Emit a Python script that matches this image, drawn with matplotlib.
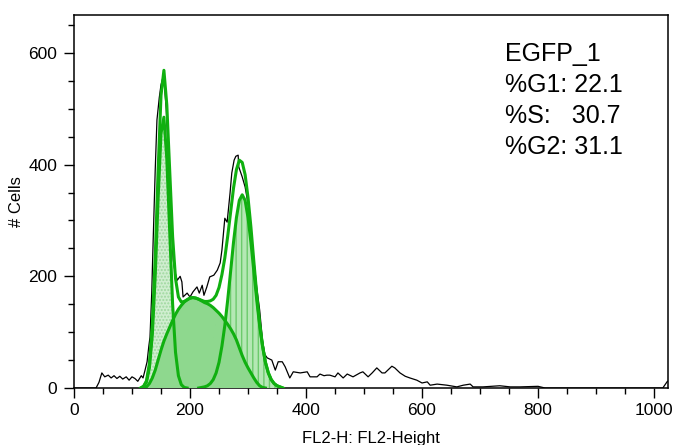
import numpy as np
import matplotlib
matplotlib.use("Agg")
import matplotlib.pyplot as plt

plt.rcParams['font.family'] = ['Liberation Sans', 'DejaVu Sans']
plt.rcParams['hatch.linewidth'] = 1.0

# raw histogram (FL2-H channel, cell count)
data_ch = [0, 38, 43, 48, 53, 59, 64, 69, 74, 79, 84, 90, 95, 100, 105, 110, 116, 119,
           122, 126, 129, 131, 134, 136, 140, 143, 147, 150, 153, 156, 159, 162, 165,
           168, 171, 174, 178, 183, 186, 188, 195, 200, 205, 212, 216, 221, 224, 229,
           234, 241, 247, 252, 255, 260, 264, 269, 272, 276, 279, 283, 284, 290, 295,
           300, 305, 310, 315, 320, 325, 329, 333, 341, 347, 352, 359, 364, 372, 378,
           390, 402, 407, 419, 424, 431, 436, 441, 450, 455, 464, 471, 481, 493, 498,
           507, 514, 522, 531, 536, 548, 553, 562, 571, 579, 591, 600, 609, 614, 626,
           643, 660, 671, 683, 688, 705, 734, 752, 769, 800, 812, 1015, 1023]
data_cnt = [0, 0, 10, 27, 20, 23, 18, 22, 17, 21, 16, 20, 14, 20, 17, 12, 22, 18,
            30, 47, 75, 91, 170, 247, 390, 480, 520, 543, 555, 540, 500, 430, 360,
            290, 230, 208, 193, 200, 190, 163, 170, 163, 172, 181, 170, 184, 166, 181,
            199, 202, 211, 224, 247, 304, 297, 349, 385, 408, 415, 417, 396, 378, 360,
            330, 280, 230, 180, 140, 85, 60, 54, 50, 32, 47, 47, 38, 18, 29,
            27, 29, 20, 20, 25, 22, 23, 23, 20, 27, 18, 25, 20, 27, 29,
            20, 27, 36, 27, 27, 39, 36, 27, 21, 18, 14, 9, 11, 5, 7,
            5, 2, 5, 7, 2, 2, 4, 2, 2, 3, 0, 0, 12]

# model components on a 5-channel grid (115 ... 360)
fit_ch = np.arange(115, 365, 5)
g1 = [0, 3, 11, 36, 95, 201, 339, 456, 485, 410, 280, 150, 64, 22, 6, 1] + [0] * 34
s_phase = [0, 0, 2, 8, 18, 32, 50, 68, 84, 97, 109, 121, 132, 141, 148, 154, 158, 161,
           162, 161, 159, 156, 153, 151, 148, 144, 139, 134, 128, 121, 114, 106, 97,
           86, 72, 58, 46, 36, 27, 18, 10, 4, 1] + [0] * 7
g2 = [0] * 21 + [1, 2, 4, 8, 15, 27, 46, 75, 112, 158, 209, 261, 305, 336, 346, 336,
                 305, 261, 209, 158, 112, 75, 46, 27, 15, 8, 4, 2, 0]

labels = ['EGFP_1', '%G1: 22.1', '%S:   30.7', '%G2: 31.1']

g1 = np.array(g1, float)
s_phase = np.array(s_phase, float)
g2 = np.array(g2, float)
total = g1 + s_phase + g2

green = '#10b010'


def trim(y):
    # keep only the part of a component that is above zero (plus one point each side)
    nz = np.nonzero(y)[0]
    a, b = max(nz[0] - 1, 0), min(nz[-1] + 2, len(y))
    return fit_ch[a:b], y[a:b]


fig = plt.figure(figsize=(6.73, 4.45), dpi=100)
ax = fig.add_axes([74 / 673, 57 / 445, 594 / 673, 373 / 445])

ax.plot(data_ch, data_cnt, color='black', lw=0.9, zorder=2)

x, y = trim(g1)
ax.fill_between(x, 0, y, facecolor='#d0eed0', edgecolor='#9fd89f', hatch='.....', lw=0, zorder=3)
x, y = trim(g2)
ax.fill_between(x, 0, y, facecolor='#b4e8b4', edgecolor='#6cca6c', hatch='|||', lw=0, zorder=3)
x, y = trim(s_phase)
ax.fill_between(x, 0, y, facecolor='#8ed88e', lw=0, zorder=4)

for comp in (g1, g2, s_phase):
    x, y = trim(comp)
    ax.plot(x, y, color=green, lw=2.2, zorder=5, solid_joinstyle='round')
x, y = trim(total)
ax.plot(x, y, color=green, lw=2.2, zorder=6, solid_joinstyle='round')

ax.set_xlim(0, 1024)
ax.set_ylim(0, 668)
ax.set_xticks([0, 200, 400, 600, 800, 1000])
ax.set_xticks(np.arange(0, 1025, 50), minor=True)
ax.set_yticks([0, 200, 400, 600])
ax.set_yticks(np.arange(0, 668, 50), minor=True)
ax.tick_params(which='major', direction='out', length=7.5, width=1, labelsize=12.5)
ax.tick_params(axis='x', which='major', pad=3.5)
ax.tick_params(axis='y', which='major', pad=4.5)
ax.tick_params(which='minor', direction='out', length=4, width=1)
for sp in ax.spines.values():
    sp.set_linewidth(1.1)

ax.set_xlabel('FL2-H: FL2-Height', fontsize=12, labelpad=9)
ax.set_ylabel('# Cells', fontsize=12, labelpad=3)

for i, t in enumerate(labels):
    ax.text(0.725, 0.895 - i * 0.083, t, transform=ax.transAxes, fontsize=18,
            va='center', ha='left')

fig.savefig('out.png', dpi=100)
